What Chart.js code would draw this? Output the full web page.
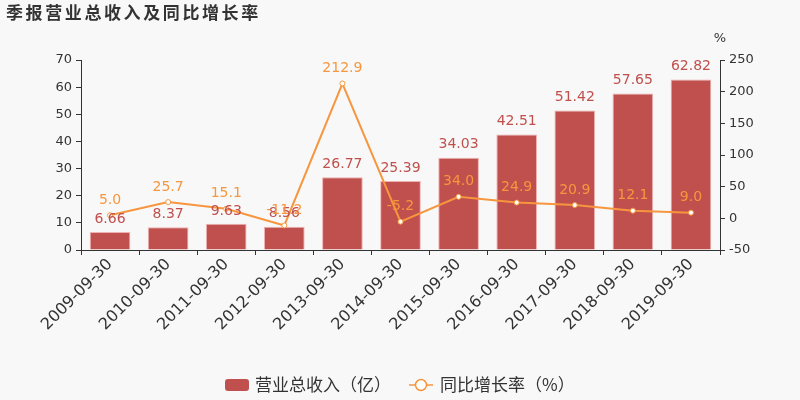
<!DOCTYPE html>
<html>
<head>
<meta charset="utf-8">
<title>季报营业总收入及同比增长率</title>
<script src="https://cdn.jsdelivr.net/npm/chart.js@4.4.0/dist/chart.umd.min.js"></script>
<style>
  html, body { margin: 0; padding: 0; background: #f8f8f8; }
</style>
</head>
<body>
<canvas id="revChart" width="800" height="400"></canvas>
<script>
// data
var periods = ['2009-09-30', '2010-09-30', '2011-09-30', '2012-09-30', '2013-09-30', '2014-09-30',
               '2015-09-30', '2016-09-30', '2017-09-30', '2018-09-30', '2019-09-30'];
var revenue = [6.66, 8.37, 9.63, 8.56, 26.77, 25.39, 34.03, 42.51, 51.42, 57.65, 62.82];
var growth = [5.0, 25.7, 15.1, -11.2, 212.9, -5.2, 34.0, 24.9, 20.9, 12.1, 9.0];

var barColor = '#c0504d';
var lineColor = '#f7963e';
var axisColor = '#333333';
var font = 'DejaVu Sans';

// value labels, title, unit and legend
var extras = {
    id: 'extras',
    afterDatasetsDraw: function (chart) {
        var c = chart.ctx;
        c.save();
        c.textAlign = 'center';
        c.textBaseline = 'middle';
        c.font = '14px "' + font + '"';
        chart.getDatasetMeta(0).data.forEach(function (bar, i) {
            c.fillStyle = barColor;
            c.fillText(revenue[i].toFixed(2), bar.x, bar.y - 13);
        });
        chart.getDatasetMeta(1).data.forEach(function (pt, i) {
            c.fillStyle = lineColor;
            c.fillText(growth[i].toFixed(1), pt.x, pt.y - 15);
        });
        c.restore();
    },
    afterDraw: function (chart) {
        var c = chart.ctx;
        c.save();
        c.fillStyle = axisColor;
        c.textBaseline = 'middle';
        c.font = 'bold 17px "Noto Sans CJK SC"';
        c.letterSpacing = '2.6px';
        c.fillText('季报营业总收入及同比增长率', 6, 13);
        c.letterSpacing = '0px';
        c.font = '13px "' + font + '"';
        c.textAlign = 'center';
        c.fillText('%', chart.chartArea.right, 39);

        // legend
        var y = 385;
        c.textAlign = 'left';
        c.font = '17px "Noto Sans CJK SC"';
        c.fillStyle = barColor;
        c.beginPath();
        c.roundRect(225, y - 6, 24, 12, 3);
        c.fill();
        c.fillStyle = axisColor;
        c.fillText('营业总收入（亿）', 255, y);
        c.strokeStyle = lineColor;
        c.lineWidth = 1.5;
        c.beginPath();
        c.moveTo(409, y);
        c.lineTo(433, y);
        c.stroke();
        c.beginPath();
        c.arc(421, y, 5.5, 0, Math.PI * 2);
        c.fillStyle = '#ffffff';
        c.fill();
        c.stroke();
        c.fillStyle = axisColor;
        c.fillText('同比增长率（%）', 440, y);
        c.restore();
    }
};

var ctx = document.getElementById('revChart').getContext('2d');
var chart = new Chart(ctx, {
    data: {
        labels: periods,
        datasets: [{
            type: 'bar',
            label: '营业总收入（亿）',
            data: revenue,
            yAxisID: 'y',
            backgroundColor: barColor,
            borderColor: 'rgba(235,170,170,0.9)',
            borderWidth: 1,
            categoryPercentage: 0.7,
            barPercentage: 1.0,
            order: 2
        }, {
            type: 'line',
            label: '同比增长率（%）',
            data: growth,
            yAxisID: 'y1',
            borderColor: lineColor,
            borderWidth: 2,
            pointRadius: 2.5,
            pointBorderWidth: 1,
            pointBackgroundColor: '#ffffff',
            pointBorderColor: lineColor,
            tension: 0,
            order: 1
        }]
    },
    options: {
        responsive: false,
        animation: false,
        devicePixelRatio: 1,
        layout: { padding: { top: 60, bottom: 50, left: 0, right: 0 } },
        plugins: {
            legend: { display: false },
            tooltip: { enabled: false }
        },
        scales: {
            x: {
                offset: true,
                grid: { display: true, offset: true, drawOnChartArea: false, color: axisColor, tickLength: 5 },
                border: { color: axisColor },
                ticks: { color: axisColor, font: { family: font, size: 16 }, autoSkip: false, minRotation: 45, maxRotation: 45, padding: 0 },
                afterFit: function (s) { s.height = 100; }
            },
            y: {
                position: 'left',
                min: 0, max: 70,
                ticks: { stepSize: 10, color: axisColor, font: { family: font, size: 13 }, padding: 4 },
                grid: { drawOnChartArea: false, color: axisColor, tickLength: 5 },
                border: { color: axisColor },
                afterFit: function (s) { s.width = 81; }
            },
            y1: {
                position: 'right',
                min: -50, max: 250,
                ticks: { stepSize: 50, color: axisColor, font: { family: font, size: 13 }, padding: 4 },
                grid: { drawOnChartArea: false, color: axisColor, tickLength: 5 },
                border: { color: axisColor },
                afterFit: function (s) { s.width = 80; }
            }
        }
    },
    plugins: [extras]
});
</script>
</body>
</html>
